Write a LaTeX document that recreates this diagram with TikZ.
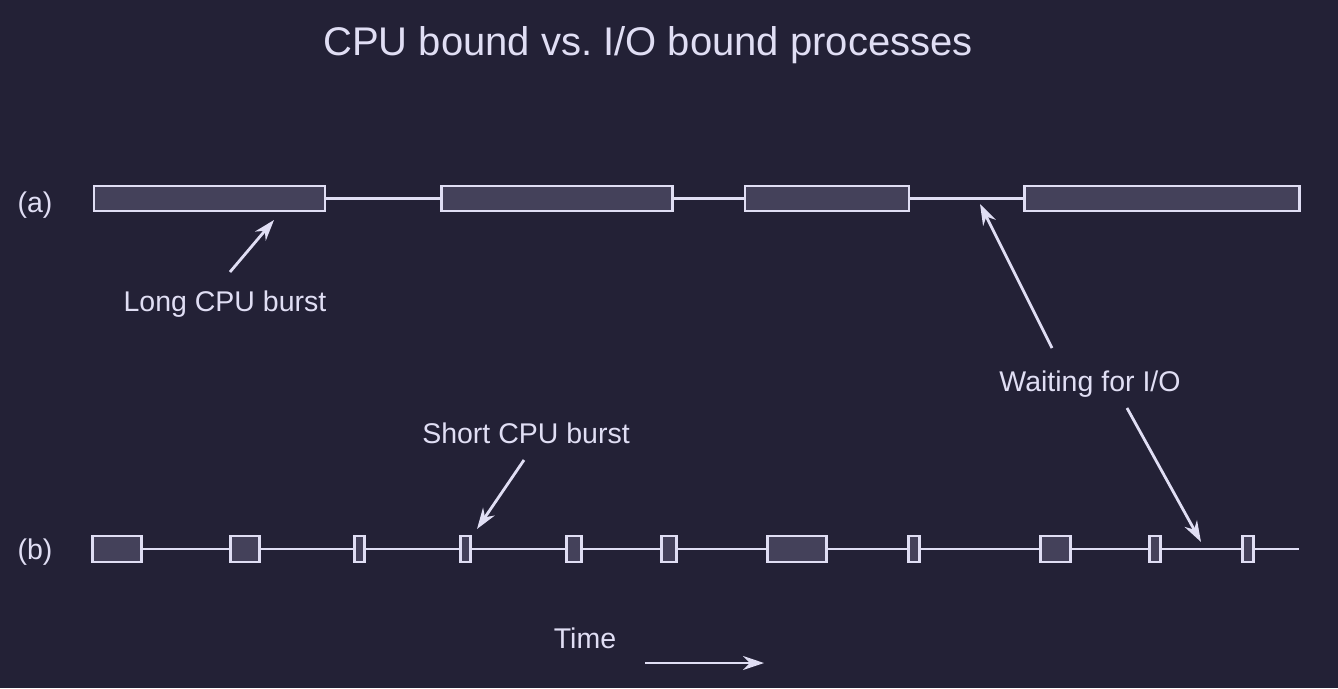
\documentclass[tikz,border=0pt]{standalone}
\usepackage{fontspec}
\setmainfont{Liberation Sans}
\usetikzlibrary{arrows.meta}
\definecolor{bg}{HTML}{232136}
\definecolor{fg}{HTML}{E0DEF4}
\definecolor{boxfill}{HTML}{44415A}
\frenchspacing
\begin{document}
\begin{tikzpicture}[x=1pt,y=-1pt,
  burst/.style={draw=fg,fill=boxfill,line width=2.8pt,inner sep=0pt,minimum height=25pt},
  wire/.style={draw=fg,line width=2.8pt},
  pointer/.style={draw=fg,line width=2.8pt,-{Stealth[length=21pt,width=14pt]}},
  lbl/.style={text=fg,font=\fontsize{28.5}{32}\selectfont,inner sep=0pt}]
\fill[bg] (0,0) rectangle (1338,688);
\useasboundingbox (0,0) rectangle (1338,688);
\node[text=fg,font=\fontsize{40}{46}\selectfont,inner sep=0pt] (title) at (648,45) {CPU bound vs. I/O bound processes};
\node[lbl] (la) at (35,205) {(a)};
\node[lbl] (lb) at (35,552) {(b)};
% row a
\node[burst,minimum width=231pt] (a1) at (209.5,198.5) {};
\node[burst,minimum width=231pt] (a2) at (557,198.5) {};
\node[burst,minimum width=164pt] (a3) at (827,198.5) {};
\node[burst,minimum width=275pt] (a4) at (1162,198.5) {};
\draw[wire] (a1.east) -- (a2.west);
\draw[wire] (a2.east) -- (a3.west);
\draw[wire] (a3.east) -- (a4.west);
% row b
\foreach \n/\l/\r in {1/91/143,2/229/261,3/353/366,4/459/472,5/565/583,6/660/678,7/766/828,8/907/921,9/1039/1072,10/1148/1162,11/1241/1255}{
  \node[burst,minimum width={\r-\l-3},minimum height=26pt] (b\n) at ({(\l+\r)/2},549) {};
}
\coordinate (bend) at (1299,549);
\foreach \i/\j in {1/2,2/3,3/4,4/5,5/6,6/7,7/8,8/9,9/10,10/11}{
  \draw[wire] (b\i.east) -- (b\j.west);
}
\draw[wire] (b11.east) -- (bend);
% labels and pointers
\node[lbl] (long) at (225,304) {Long CPU burst};
\coordinate (longs) at (230,272);
\coordinate (longt) at (274,220);
\draw[pointer] (longs) -- (longt);
\node[lbl] (wait) at (1090,384) {Waiting for I/O};
\coordinate (waits1) at (1052,348);
\coordinate (waitt1) at (980,204);
\draw[pointer] (waits1) -- (waitt1);
\coordinate (waits2) at (1127,408);
\coordinate (waitt2) at (1201,542);
\draw[pointer] (waits2) -- (waitt2);
\node[lbl] (short) at (526,433) {Short CPU burst};
\coordinate (shorts) at (524,460);
\coordinate (shortt) at (477,529);
\draw[pointer] (shorts) -- (shortt);
\node[lbl] (time) at (585,638) {Time};
\coordinate (times) at (645,663);
\coordinate (timet) at (764,663);
\draw[pointer] (times) -- (timet);
\end{tikzpicture}
\end{document}
